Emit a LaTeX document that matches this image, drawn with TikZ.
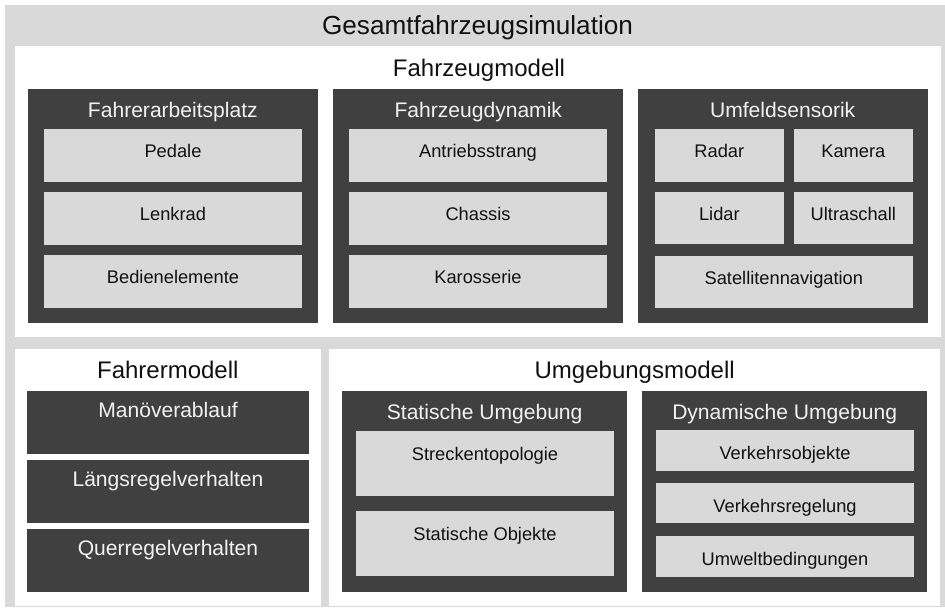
\documentclass[tikz,border=0pt]{standalone}
\usepackage{fontspec}
\setmainfont{Liberation Sans}
\usetikzlibrary{calc}
\definecolor{panelgray}{HTML}{D9D9D9}
\definecolor{darkfill}{HTML}{404040}
\definecolor{lightfill}{HTML}{D9D9D9}
\definecolor{txtdark}{HTML}{111111}
\definecolor{txtlight}{HTML}{F2F2F2}
\tikzset{
  boxbase/.style={inner sep=0pt, outer sep=0pt, draw=none, anchor=north west},
  grayframe/.style={boxbase, fill=panelgray},
  whitepanel/.style={boxbase, fill=white},
  darkbox/.style={boxbase, fill=darkfill},
  lightbox/.style={boxbase, fill=lightfill},
  titletext/.style={font=\fontsize{19.6}{23}\selectfont, text=txtdark, anchor=base, inner sep=0pt},
  sectiontext/.style={font=\fontsize{18}{22}\selectfont, text=txtdark, anchor=base, inner sep=0pt},
  grouptext/.style={font=\fontsize{15.8}{19}\selectfont, text=txtlight, anchor=base, inner sep=0pt},
  itemtext/.style={font=\fontsize{13.7}{16}\selectfont, text=txtdark, anchor=base, inner sep=0pt},
}
% name, style, x1, y1, x2, y2
\newcommand{\rbox}[6]{%
  \node[#2, minimum width={(#5-#3)*0.75pt}, minimum height={(#6-#4)*0.75pt}] (#1) at (#3,#4) {};}
% name, style, box, baseline offset, text
\newcommand{\rlabel}[5]{%
  \node[#2] (#1) at ($(#3.north)+(0,#4)$) {#5};}
\begin{document}
\begin{tikzpicture}[x=0.75pt,y=-0.75pt]
\useasboundingbox (0,0) rectangle (945,607);
\fill[white] (0,0) rectangle (945,607);

\rbox{frame}{grayframe}{5}{5}{945}{607}
\node[titletext] (title) at (477.5,34.3) {Gesamtfahrzeugsimulation};

% Fahrzeugmodell
\rbox{fzm}{whitepanel}{15}{45.7}{940.7}{337.3}
\node[sectiontext] (fzmt) at (479,76) {Fahrzeugmodell};

\rbox{fap}{darkbox}{28}{89}{317.7}{322.7}
\rlabel{fapt}{grouptext}{fap}{28}{Fahrerarbeitsplatz}
\rbox{ped}{lightbox}{44}{129}{302}{181.7}
\rlabel{pedt}{itemtext}{ped}{28.5}{Pedale}
\rbox{lnk}{lightbox}{44}{192}{302}{244.7}
\rlabel{lnkt}{itemtext}{lnk}{28.5}{Lenkrad}
\rbox{bed}{lightbox}{44}{255}{302}{307.7}
\rlabel{bedt}{itemtext}{bed}{28.5}{Bedienelemente}

\rbox{fzd}{darkbox}{333.3}{89}{623.3}{322.7}
\rlabel{fzdt}{grouptext}{fzd}{28}{Fahrzeugdynamik}
\rbox{ant}{lightbox}{349}{129}{607}{181.7}
\rlabel{antt}{itemtext}{ant}{28.5}{Antriebsstrang}
\rbox{cha}{lightbox}{349}{192}{607}{244.7}
\rlabel{chat}{itemtext}{cha}{28.5}{Chassis}
\rbox{kar}{lightbox}{349}{255}{607}{307.7}
\rlabel{kart}{itemtext}{kar}{28.5}{Karosserie}

\rbox{ums}{darkbox}{637.7}{89}{927.7}{322.7}
\rlabel{umst}{grouptext}{ums}{28}{Umfeldsensorik}
\rbox{rad}{lightbox}{655}{129}{783.7}{181.7}
\rlabel{radt}{itemtext}{rad}{28.5}{Radar}
\rbox{kam}{lightbox}{794}{129}{912.7}{181.7}
\rlabel{kamt}{itemtext}{kam}{28.5}{Kamera}
\rbox{lid}{lightbox}{655}{192}{783.7}{244.3}
\rlabel{lidt}{itemtext}{lid}{28.5}{Lidar}
\rbox{ult}{lightbox}{794}{192}{912.7}{244.3}
\rlabel{ultt}{itemtext}{ult}{28.5}{Ultraschall}
\rbox{sat}{lightbox}{655}{255.5}{912.7}{307.7}
\rlabel{satt}{itemtext}{sat}{28.5}{Satellitennavigation}

% Fahrermodell
\rbox{frm}{whitepanel}{15}{349}{320.7}{606}
\node[sectiontext] (frmt) at (167.8,378.3) {Fahrermodell};
\rbox{man}{darkbox}{27}{391}{309}{453.7}
\rlabel{mant}{grouptext}{man}{26.5}{Manöverablauf}
\rbox{lae}{darkbox}{27}{460}{309}{522.7}
\rlabel{laet}{grouptext}{lae}{26.5}{Längsregelverhalten}
\rbox{que}{darkbox}{27}{529}{309}{591.7}
\rlabel{quet}{grouptext}{que}{26.5}{Querregelverhalten}

% Umgebungsmodell
\rbox{ugm}{whitepanel}{329.3}{349}{940}{606}
\node[sectiontext] (ugmt) at (634.7,378.3) {Umgebungsmodell};

\rbox{stu}{darkbox}{342}{390.5}{627.3}{592.2}
\rlabel{stut}{grouptext}{stu}{28.5}{Statische Umgebung}
\rbox{str}{lightbox}{356}{431}{614}{495.7}
\rlabel{strt}{itemtext}{str}{29}{Streckentopologie}
\rbox{sto}{lightbox}{356}{511}{614}{575.7}
\rlabel{stot}{itemtext}{sto}{29}{Statische Objekte}

\rbox{dyu}{darkbox}{642}{390.5}{927.3}{592.2}
\rlabel{dyut}{grouptext}{dyu}{28.5}{Dynamische Umgebung}
\rbox{vob}{lightbox}{656}{430}{914}{470.7}
\rlabel{vobt}{itemtext}{vob}{29}{Verkehrsobjekte}
\rbox{vre}{lightbox}{656}{483}{914}{523.3}
\rlabel{vret}{itemtext}{vre}{29}{Verkehrsregelung}
\rbox{umw}{lightbox}{656}{536}{914}{576.7}
\rlabel{umwt}{itemtext}{umw}{29}{Umweltbedingungen}
\end{tikzpicture}
\end{document}
